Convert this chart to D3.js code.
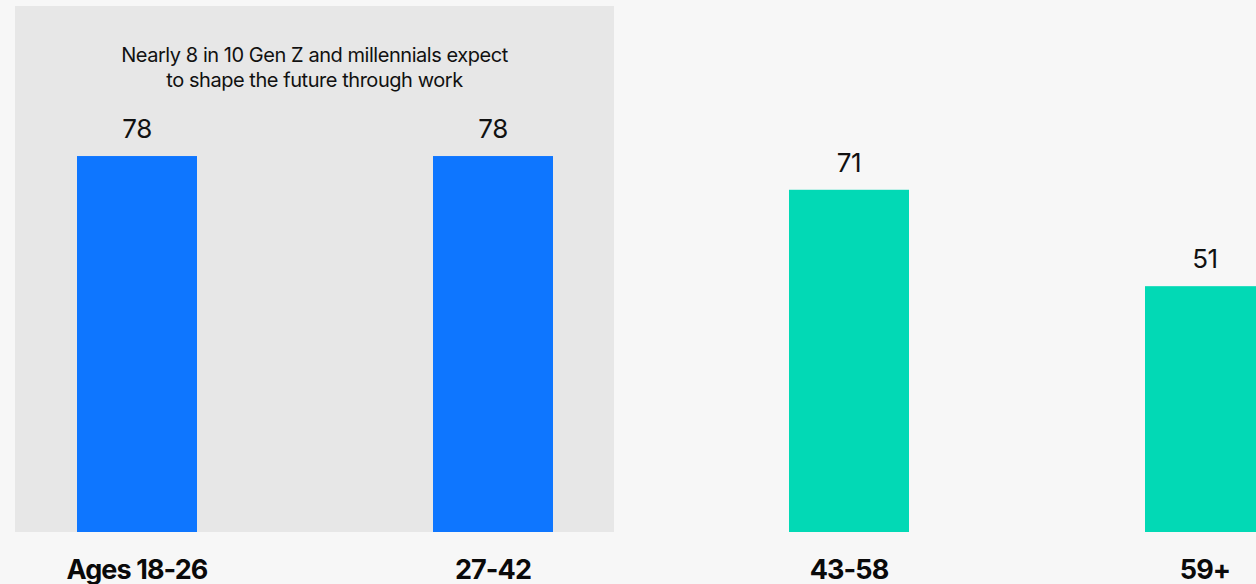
<!DOCTYPE html>
<html><head><meta charset="utf-8">
<script src="https://cdn.jsdelivr.net/npm/d3@7"></script>
<style>
html,body{margin:0;padding:0;background:#f7f7f7;overflow:hidden}
svg{display:block}
</style></head>
<body>
<svg id="c" width="1256" height="584"></svg>
<script>
const categories = ["Ages 18-26", "27-42", "43-58", "59+"];
const values = [78, 78, 71, 51];
const groups = ["young", "young", "old", "old"];
const titleLines = ["Nearly 8 in 10 Gen Z and millennials expect", "to shape the future through work"];

const W = 1256, H = 584;
const svg = d3.select("#c");
svg.append("rect").attr("width", W).attr("height", H).attr("fill", "#f7f7f7");

const step = 356, bw = 120, x0 = 137 - step / 2;
const x = d3.scaleBand().domain(categories)
  .range([x0, x0 + step * categories.length])
  .paddingInner(1 - bw / step).paddingOuter((1 - bw / step) / 2);
const y = d3.scaleLinear().domain([0, 100]).range([532, 50]);
const color = d3.scaleOrdinal().domain(["young", "old"]).range(["#0e76ff", "#02d9b5"]);

// highlight panel
const pl = x(categories[0]) - 62, pr = x(categories[1]) + x.bandwidth() + 61;
svg.append("rect").attr("x", pl).attr("y", 6).attr("width", pr - pl).attr("height", y(0) - 6).attr("fill", "#e7e7e7");

svg.append("text").attr("x", (pl + pr) / 2).attr("y", 62)
  .attr("text-anchor", "middle").attr("font-family", "Inter, sans-serif")
  .attr("font-size", 20).attr("letter-spacing", -0.45).attr("fill", "#111")
  .selectAll("tspan").data(titleLines).join("tspan")
  .attr("x", (pl + pr) / 2).attr("dy", (d, i) => i ? 24.5 : 0).text(d => d);

svg.selectAll("rect.bar").data(values).join("rect").attr("class", "bar")
  .attr("x", (d, i) => x(categories[i])).attr("width", x.bandwidth())
  .attr("y", d => y(d)).attr("height", d => y(0) - y(d))
  .attr("fill", (d, i) => color(groups[i]));

svg.selectAll("text.val").data(values).join("text").attr("class", "val")
  .attr("x", (d, i) => x(categories[i]) + x.bandwidth() / 2).attr("y", d => y(d) - 18)
  .attr("text-anchor", "middle").attr("font-family", "Inter, sans-serif")
  .attr("font-size", 26).attr("letter-spacing", -0.5).attr("fill", "#111").text(d => d);

const ax = svg.append("g").attr("transform", `translate(0,${y(0)})`)
  .call(d3.axisBottom(x).tickSize(0).tickPadding(0));
ax.select(".domain").remove();
ax.selectAll("text").attr("y", 47).attr("dy", 0)
  .attr("font-family", "Inter, sans-serif").attr("font-size", 27).attr("font-weight", 700)
  .attr("letter-spacing", -0.9).attr("fill", "#0a0a0a");
</script>
</body></html>
